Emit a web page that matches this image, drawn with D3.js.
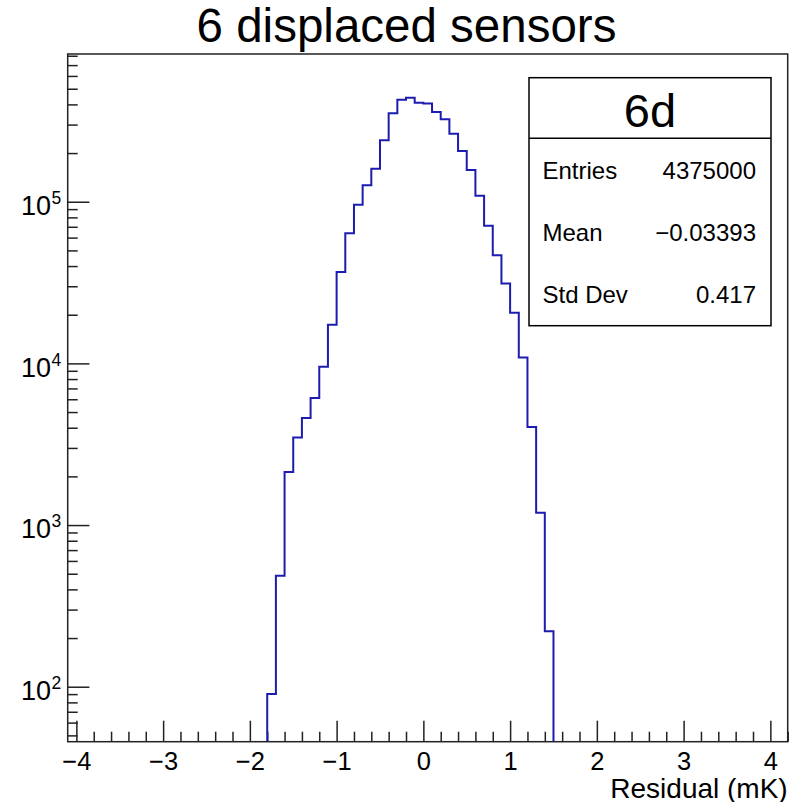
<!DOCTYPE html>
<html>
<head>
<meta charset="utf-8">
<script src="https://cdn.jsdelivr.net/npm/d3@7/dist/d3.min.js"></script>
<style>
  html, body { margin: 0; padding: 0; background: #fff; }
  svg { display: block; font-family: "Liberation Sans", Arial, Helvetica, sans-serif; }
</style>
</head>
<body>
<svg id="chart" width="796" height="802"></svg>
<script>
// ---- data ----
const titleText = "6 displaced sensors";
const xAxisTitle = "Residual (mK)";
const histName = "6d";
const statLabels = ["Entries", "Mean", "Std Dev"];
const statValues = ["4375000", "\u22120.03393", "0.417"];
const binWidth = 0.1;
const binLeft = [-1.8, -1.7, -1.6, -1.5, -1.4, -1.3, -1.2, -1.1, -1.0, -0.9, -0.8,
                 -0.7, -0.6, -0.5, -0.4, -0.3, -0.2, -0.1, 0.0, 0.1, 0.2, 0.3,
                 0.4, 0.5, 0.6, 0.7, 0.8, 0.9, 1.0, 1.1, 1.2, 1.3, 1.4];
const binCounts = [90, 486, 2128, 3479, 4592, 6106, 9522, 17340, 36730, 63750, 95800,
                   126300, 160000, 239900, 352400, 427600, 439700, 409400, 405000, 359000, 323400, 263400,
                   205900, 157100, 108900, 71060, 46610, 31190, 20580, 10870, 4041, 1192, 220];
const xMajorTicks = [-4, -3, -2, -1, 0, 1, 2, 3, 4];
const yMajorTicks = [1e2, 1e3, 1e4, 1e5];
const yExponents = ["2", "3", "4", "5"];

// ---- layout ----
const L = 67.7, R = 787.7, T = 54, B = 741.7;
const svg = d3.select("#chart");
const x = d3.scaleLinear().domain([-4.1, 4.2]).range([L, R]);
const y = d3.scaleLog().domain([45.7, 8.2e5]).range([B, T]);
const axisColor = "#222";

// title
svg.append("text").attr("x", 406.5).attr("y", 42).attr("text-anchor", "middle")
  .attr("font-size", 47.5).attr("fill", "#000").text(titleText);

// x minor ticks
const xMinor = d3.range(-4.0, 4.21, 0.2).filter(v => Math.abs(v - Math.round(v)) > 1e-6);
const gxMinor = svg.append("g").attr("transform", `translate(0,${B})`)
  .call(d3.axisBottom(x).tickValues(xMinor).tickSizeInner(-10).tickSizeOuter(0).tickFormat(""));
gxMinor.select(".domain").remove();
gxMinor.selectAll("line").attr("stroke", axisColor).attr("stroke-width", 1.5);

// x major ticks + labels
const gx = svg.append("g").attr("transform", `translate(0,${B})`)
  .call(d3.axisBottom(x).tickValues(xMajorTicks).tickSizeInner(-21).tickSizeOuter(0)
        .tickFormat(d3.format("d")));
gx.select(".domain").remove();
gx.selectAll("line").attr("stroke", axisColor).attr("stroke-width", 1.5);
gx.selectAll("text").attr("y", 28.3).attr("dy", null).attr("font-size", 25.5)
  .attr("fill", "#000").attr("font-family", "'Liberation Sans', Arial, sans-serif");

// y minor ticks
const yMinor = [];
[1, 2, 3, 4, 5].forEach(e => {
  for (let m = 2; m <= 9; m++) {
    const v = m * Math.pow(10, e);
    if (v >= 45.7 && v <= 8.2e5) yMinor.push(v);
  }
});
const gyMinor = svg.append("g").attr("transform", `translate(${L},0)`)
  .call(d3.axisLeft(y).tickValues(yMinor).tickSizeInner(-10).tickSizeOuter(0).tickFormat(""));
gyMinor.select(".domain").remove();
gyMinor.selectAll("line").attr("stroke", axisColor).attr("stroke-width", 1.5);

// y major ticks
const gy = svg.append("g").attr("transform", `translate(${L},0)`)
  .call(d3.axisLeft(y).tickValues(yMajorTicks).tickSizeInner(-21.7).tickSizeOuter(0).tickFormat(""));
gy.select(".domain").remove();
gy.selectAll("line").attr("stroke", axisColor).attr("stroke-width", 1.5);

// y labels as 10^n
yMajorTicks.forEach((v, i) => {
  const yy = y(v);
  svg.append("text").attr("x", 51).attr("y", yy + 13.2).attr("text-anchor", "end")
    .attr("font-size", 27).attr("fill", "#000").text("10");
  svg.append("text").attr("x", 51.5).attr("y", yy + 2.3).attr("text-anchor", "start")
    .attr("font-size", 17.5).attr("fill", "#000").text(yExponents[i]);
});

// histogram step path
const pts = [];
pts.push([x(binLeft[0]), y.range()[0]]);
binLeft.forEach((b, i) => {
  pts.push([x(b), y(binCounts[i])]);
  pts.push([x(b + binWidth), y(binCounts[i])]);
});
pts.push([x(binLeft[binLeft.length - 1] + binWidth), y.range()[0]]);
svg.append("path").attr("d", d3.line()(pts)).attr("fill", "none")
  .attr("stroke", "#1c1cb0").attr("stroke-width", 2).attr("stroke-linejoin", "miter");

// frame
svg.append("rect").attr("x", L).attr("y", T).attr("width", R - L).attr("height", B - T)
  .attr("fill", "none").attr("stroke", axisColor).attr("stroke-width", 1.5);

// x axis title
svg.append("text").attr("x", R).attr("y", 797.5).attr("text-anchor", "end")
  .attr("font-size", 28).attr("fill", "#000").text(xAxisTitle);

// stats box
const bx = 529, by = 77.7, bw = 242, bh = 248, divY = 138.3;
svg.append("rect").attr("x", bx).attr("y", by).attr("width", bw).attr("height", bh)
  .attr("fill", "#fff").attr("stroke", "#000").attr("stroke-width", 1.5);
svg.append("line").attr("x1", bx).attr("x2", bx + bw).attr("y1", divY).attr("y2", divY)
  .attr("stroke", "#000").attr("stroke-width", 1.5);
svg.append("text").attr("x", bx + bw / 2).attr("y", 127).attr("text-anchor", "middle")
  .attr("font-size", 47).attr("fill", "#000").text(histName);
statLabels.forEach((lab, i) => {
  const yy = 179.3 + i * 62;
  svg.append("text").attr("x", 542.5).attr("y", yy).attr("font-size", 24).attr("fill", "#000").text(lab);
  svg.append("text").attr("x", 756).attr("y", yy).attr("text-anchor", "end")
    .attr("font-size", 24).attr("fill", "#000").text(statValues[i]);
});
</script>
</body>
</html>
